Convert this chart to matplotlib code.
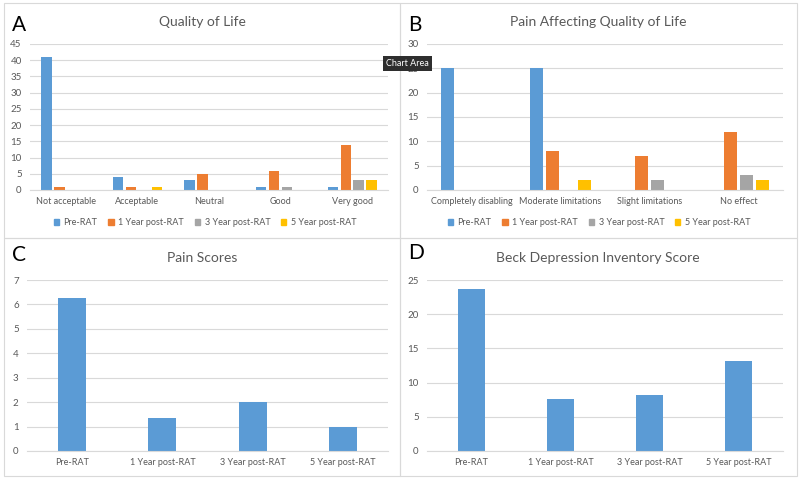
import numpy as np
import matplotlib.pyplot as plt
from matplotlib.patches import Rectangle, Patch

plt.rcParams['font.family'] = ['Lato', 'DejaVu Sans']

series_labels = ["Pre-RAT", "1 Year post-RAT", "3 Year post-RAT", "5 Year post-RAT"]
colors = ["#5B9BD5", "#ED7D31", "#A5A5A5", "#FFC000"]

qol_categories = ["Not acceptable", "Acceptable", "Neutral", "Good", "Very good"]
qol_pre = [41, 4, 3, 1, 1]
qol_1yr = [1, 1, 5, 6, 14]
qol_3yr = [0, 0, 0, 1, 3]
qol_5yr = [0, 1, 0, 0, 3]

pain_categories = ["Completely disabling", "Moderate limitations", "Slight limitations", "No effect"]
pain_pre = [25, 25, 0, 0]
pain_1yr = [0, 8, 7, 12]
pain_3yr = [0, 0, 2, 3]
pain_5yr = [0, 2, 0, 2]

timepoints = ["Pre-RAT", "1 Year post-RAT", "3 Year post-RAT", "5 Year post-RAT"]
pain_scores = [6.25, 1.35, 2.0, 1.0]
bdi_scores = [23.7, 7.55, 8.15, 13.15]

W, H = 800, 480
GRID = "#D9D9D9"
TXT = "#595959"

fig = plt.figure(figsize=(8, 4.8), dpi=100)


def px_axes(x0, y0, x1, y1):
    # pixel box (top-left origin) -> figure axes
    return fig.add_axes([x0 / W, 1 - y1 / H, (x1 - x0) / W, (y1 - y0) / H])


def fx(x):
    return x / W


def fy(y):
    return 1 - y / H


def style(ax, ymax, step, labels):
    ax.set_ylim(0, ymax)
    ax.set_yticks(np.arange(0, ymax + 0.01, step))
    ax.set_xlim(-0.5, len(labels) - 0.5)
    ax.set_xticks(range(len(labels)))
    ax.set_xticklabels(labels)
    for s in ["top", "right", "left"]:
        ax.spines[s].set_visible(False)
    ax.spines["bottom"].set_color(GRID)
    ax.yaxis.grid(True, color=GRID, lw=0.8)
    ax.set_axisbelow(True)
    ax.tick_params(axis="y", length=0, pad=6, labelsize=7, labelcolor=TXT)
    ax.tick_params(axis="x", length=0, pad=5, labelsize=6.5, labelcolor=TXT)


def grouped(ax, groups):
    x = np.arange(len(groups[0]))
    for i, (vals, c) in enumerate(zip(groups, colors)):
        ax.bar(x + (i - 1.5) * 0.18, vals, width=0.145, color=c)


# panel borders
for (x0, y0, x1, y1) in [(4, 3, 400, 238), (400, 3, 797, 238), (4, 238, 400, 476), (400, 238, 797, 476)]:
    fig.add_artist(Rectangle((fx(x0), fy(y1)), (x1 - x0) / W, (y1 - y0) / H,
                             transform=fig.transFigure, fill=False, ec=GRID, lw=0.8))

# A
axA = px_axes(30, 44, 388, 190)
grouped(axA, [qol_pre, qol_1yr, qol_3yr, qol_5yr])
style(axA, 45, 5, qol_categories)

# B
axB = px_axes(427, 44, 783, 190)
grouped(axB, [pain_pre, pain_1yr, pain_3yr, pain_5yr])
style(axB, 30, 5, pain_categories)

# C
axC = px_axes(27, 280, 388, 451)
axC.bar(range(len(timepoints)), pain_scores, width=0.313, color=colors[0])
style(axC, 7, 1, timepoints)

# D
axD = px_axes(427, 280, 783, 451)
axD.bar(range(len(timepoints)), bdi_scores, width=0.313, color=colors[0])
style(axD, 25, 5, timepoints)

# titles and panel letters
for x, y, t in [(202, 22, "Quality of Life"), (598, 22, "Pain Affecting Quality of Life"),
                (202, 258, "Pain Scores"), (598, 258, "Beck Depression Inventory Score")]:
    fig.text(fx(x), fy(y), t, ha="center", va="center", fontsize=10, color=TXT)
for x, y, t in [(12, 25, "A"), (408, 25, "B"), (12, 255, "C"), (408, 253, "D")]:
    fig.text(fx(x), fy(y), t, ha="left", va="center", fontsize=15, color="black")

# legends
handles = [Patch(color=c) for c in colors]
for ax, cx in [(axA, 205), (axB, 599)]:
    ax.legend(handles, series_labels, ncol=4, loc="center", bbox_to_anchor=(fx(cx), fy(223)),
              bbox_transform=fig.transFigure, frameon=False, fontsize=6.5,
              handlelength=0.6, handleheight=0.6, handletextpad=0.5, columnspacing=1.2,
              labelcolor=TXT)

# hover tooltip visible in the reference
fig.text(fx(407.5), fy(63.5), "Chart Area", ha="center", va="center", fontsize=6.5, color="white",
         bbox=dict(boxstyle="square,pad=0.35", fc="#2E2E2E", ec="none"), zorder=10)

fig.savefig("out.png", dpi=100)
